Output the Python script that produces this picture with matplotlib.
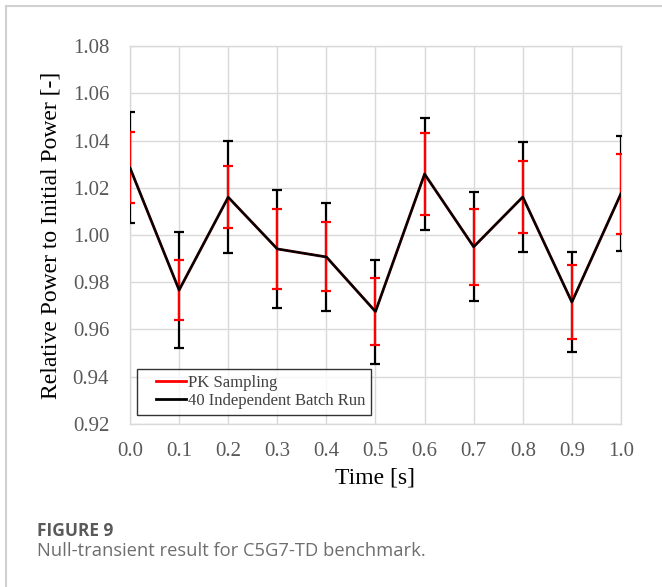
import matplotlib
matplotlib.use("Agg")
import matplotlib.pyplot as plt
from matplotlib.lines import Line2D
from matplotlib.legend_handler import HandlerLine2D

# datos
time = [0.0, 0.1, 0.2, 0.3, 0.4, 0.5, 0.6, 0.7, 0.8, 0.9, 1.0]
power = [1.0284, 0.9767, 1.0160, 0.9941, 0.9907, 0.9676, 1.0258, 0.9950, 1.0161, 0.9716, 1.0175]
err_batch = [0.0235, 0.0245, 0.0237, 0.0248, 0.0227, 0.0220, 0.0237, 0.0230, 0.0231, 0.0210, 0.0242]
err_pk = [0.0150, 0.0127, 0.0131, 0.0169, 0.0146, 0.0140, 0.0174, 0.0160, 0.0153, 0.0155, 0.0170]

x_ticks = [0.0, 0.1, 0.2, 0.3, 0.4, 0.5, 0.6, 0.7, 0.8, 0.9, 1.0]
y_ticks = [0.92, 0.94, 0.96, 0.98, 1.00, 1.02, 1.04, 1.06, 1.08]

serif = "Liberation Serif"
fig = plt.figure(figsize=(6.62, 5.87), dpi=100)
ax = fig.add_axes([0.1964, 0.2777, 0.938 - 0.1964, 0.9216 - 0.2777])

# barras de error: primero el lote (negro), encima PK (rojo)
ax.errorbar(time, power, yerr=err_batch, fmt='none', ecolor='black',
            elinewidth=1.6, capsize=3.5, capthick=1.6, zorder=3)
ax.errorbar(time, power, yerr=err_pk, fmt='none', ecolor='red',
            elinewidth=1.6, capsize=3.5, capthick=1.6, zorder=4)
ax.plot(time, power, color='#4a0000', linewidth=2.0, zorder=5)
ax.plot(time, power, color='black', linewidth=1.3, zorder=6)

ax.set_xlim(0, 1.0)
ax.set_ylim(0.92, 1.08)
ax.set_xticks(x_ticks)
ax.set_yticks(y_ticks)
ax.set_xticklabels([f"{v:.1f}" for v in x_ticks], fontfamily=serif, fontsize=15, color='#595959')
ax.set_yticklabels([f"{v:.2f}" for v in y_ticks], fontfamily=serif, fontsize=15, color='#595959')
ax.tick_params(axis='x', length=0, pad=13)
ax.tick_params(axis='y', length=0, pad=15)
ax.grid(True, color='#d9d9d9', linewidth=1)
ax.set_axisbelow(True)
for s in ax.spines.values():
    s.set_color('#d9d9d9')
    s.set_linewidth(1)

ax.set_xlabel("Time [s]", fontfamily=serif, fontsize=17, color='black', labelpad=5)
ax.set_ylabel("Relative Power to Initial Power [-]", fontfamily=serif, fontsize=17,
              color='black', labelpad=8)

handles = [Line2D([0], [0], color='red', linewidth=2),
           Line2D([0], [0], color='black', linewidth=2)]
leg = ax.legend(handles, ["PK Sampling", "40 Independent Batch Run"], loc='lower left',
                bbox_to_anchor=(0.0143, 0.024), prop={'family': serif, 'size': 12},
                frameon=True, fancybox=False, handlelength=2.6, handletextpad=0.12,
                borderpad=0.35, labelspacing=0.15, borderaxespad=0,
                handler_map={Line2D: HandlerLine2D(xpad=0.8)})
leg.get_frame().set_edgecolor('black')
leg.get_frame().set_linewidth(1)
for t in leg.get_texts():
    t.set_color('#404040')

# marco del panel
fig.add_artist(Line2D([6 / 662, 1.0], [1 - 6 / 587, 1 - 6 / 587], color='#d0d0d0', linewidth=1.5))
fig.add_artist(Line2D([6 / 662, 6 / 662], [0, 1 - 6 / 587], color='#d0d0d0', linewidth=1.5))

fig.text(37 / 662, 1 - 531 / 587, "FIGURE 9", fontfamily="Open Sans", fontsize=12.5,
         fontweight='bold', color='#5a5a5a', va='center', ha='left')
fig.text(37 / 662, 1 - 551 / 587, "Null-transient result for C5G7-TD benchmark.",
         fontfamily="Open Sans", fontsize=13.2, color='#6e6e6e', va='center', ha='left')

fig.savefig("out.png", dpi=100)
